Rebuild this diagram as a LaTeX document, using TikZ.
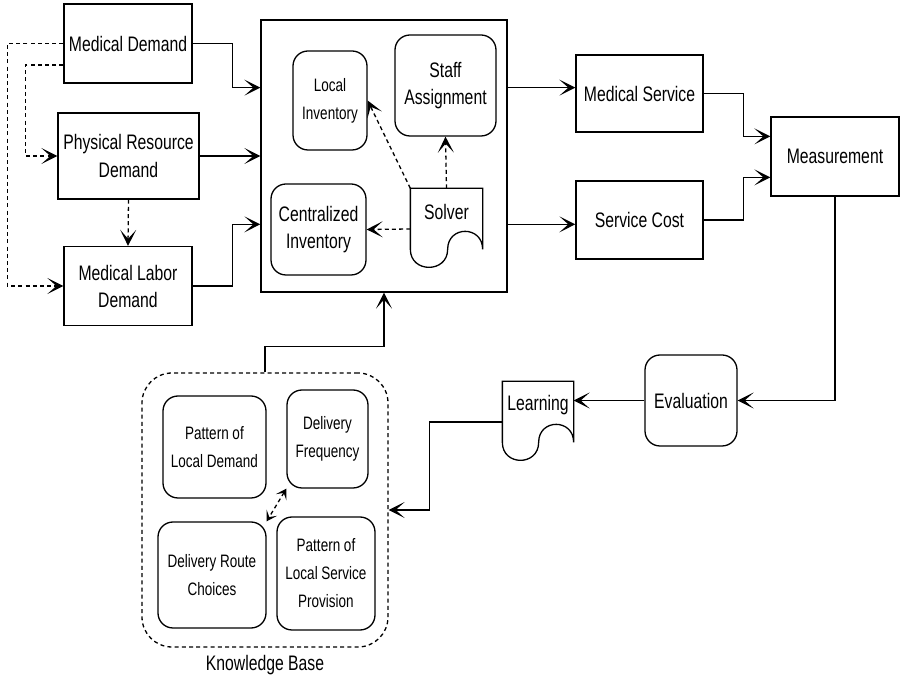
\documentclass[tikz,border=0pt]{standalone}
\usepackage{fontspec}
\setmainfont{Liberation Sans}[FakeStretch=0.75]
\usetikzlibrary{arrows.meta,positioning,calc}

\newcommand{\bigtxt}{\fontsize{10.5}{13.5}\selectfont}
\newcommand{\smalltxt}{\fontsize{9}{14}\selectfont}

\begin{document}
\begin{tikzpicture}[x=0.5pt,y=-0.5pt,line width=0.65pt,
  box/.style={draw,align=center,font=\bigtxt,inner sep=2pt},
  rbox/.style={box,rounded corners=7.5pt},
  sbox/.style={rbox,font=\smalltxt},
  docbox/.style={align=center,font=\bigtxt,inner sep=0pt,text height=7pt},
  dsh/.style={dash pattern=on 2pt off 1.6pt},
  arr/.style={-{Stealth[length=8pt,width=8pt,inset=4.5pt]}},
  darr/.style={{Stealth[length=5pt,width=6pt,inset=2.5pt]}-{Stealth[length=5pt,width=6pt,inset=2.5pt]}}
]
\useasboundingbox (0,0) rectangle (901,678);

% demand side
\node[box,minimum width=64pt,minimum height=39.5pt] (meddem) at (128,43.5) {Medical Demand};
\node[box,minimum width=70.5pt,minimum height=43pt] (physdem) at (128.5,156) {Physical Resource\\Demand};
\node[box,minimum width=64pt,minimum height=39.5pt] (labdem) at (128,286) {Medical Labor\\Demand};

% core block
\node[box,minimum width=123pt,minimum height=136pt] (core) at (384,156) {};
\node[sbox,minimum width=37pt,minimum height=49.5pt] (localinv) at (330,100.5) {Local\\Inventory};
\node[rbox,minimum width=50.5pt,minimum height=50.5pt] (staff) at (445.5,85.5) {Staff\\Assignment};
\node[rbox,minimum width=47.5pt,minimum height=45.5pt] (centinv) at (318.5,229.5) {Centralized\\Inventory};
\node[docbox,minimum width=35.5pt,minimum height=40pt,text depth=16pt] (solver) at (446.5,229) {Solver};
\draw (solver.north west) -- (solver.north east) -- ($(solver.north east)+(0,61)$)
  .. controls +(0,-24) and +(0,-24) .. ($(solver.north east)+(-35,61)$)
  .. controls +(0,24) and +(0,24) .. ($(solver.north west)+(0,61)$) -- cycle;

\coordinate (in1) at ($(core.north west)!0.25!(core.south west)$);
\coordinate (in3) at ($(core.north west)!0.75!(core.south west)$);
\coordinate (out1) at ($(core.north east)!0.25!(core.south east)$);
\coordinate (out3) at ($(core.north east)!0.75!(core.south east)$);

% outputs
\node[box,minimum width=63.5pt,minimum height=38.5pt] (medserv) at (639.5,93.5) {Medical Service};
\node[box,minimum width=63.5pt,minimum height=39pt] (servcost) at (639.5,220) {Service Cost};
\node[box,minimum width=64pt,minimum height=39.5pt] (measure) at (835,156.5) {Measurement};
\coordinate (min1) at ($(measure.north west)!0.25!(measure.south west)$);
\coordinate (min2) at ($(measure.north west)!0.76!(measure.south west)$);

% feedback loop
\node[rbox,minimum width=46pt,minimum height=45.5pt] (evalu) at (691,400.5) {Evaluation};
\node[docbox,minimum width=35pt,minimum height=40pt,text depth=18pt] (learn) at (538,422) {Learning};
\draw (learn.north west) -- (learn.north east) -- ($(learn.north east)+(0,61)$)
  .. controls +(0,-24) and +(0,-24) .. ($(learn.north east)+(-35,61)$)
  .. controls +(0,24) and +(0,24) .. ($(learn.north west)+(0,61)$) -- cycle;

% knowledge base
\node[draw,dsh,rounded corners=15pt,minimum width=123pt,minimum height=137pt,
      label={[font=\bigtxt,label distance=0pt]below:Knowledge Base}] (kb) at (265,510) {};
\node[sbox,minimum width=51.5pt,minimum height=51pt] (patdem) at (214.5,447) {Pattern of\\Local Demand};
\node[sbox,minimum width=40.5pt,minimum height=49pt] (delfreq) at (327.5,439) {Delivery\\Frequency};
\node[sbox,minimum width=54pt,minimum height=53pt] (delroute) at (212,575) {Delivery Route\\Choices};
\node[sbox,minimum width=49pt,minimum height=56.5pt] (patserv) at (326,573.5) {Pattern of\\Local Service\\Provision};

% connectors
\draw[arr] (meddem.east) -- ++(40,0) |- (in1);
\draw[arr] (physdem.east) -- (core.west);
\draw[arr] (labdem.east) -- ++(40,0) |- (in3);
\draw[arr,dsh] (meddem.west) -- ++(-56,0) |- (labdem.west);
\draw[arr,dsh] ([yshift=-10.75pt]meddem.west) -- ++(-38,0) |- (physdem.west);
\draw[arr,dsh] (physdem.south) -- (labdem.north);
\draw[arr,dsh] (solver.north west) -- (localinv.east);
\draw[arr,dsh] (solver.north) -- (staff.south);
\draw[arr,dsh] (solver.west) -- (centinv.east);
\draw[arr] (out1) -- (out1 -| medserv.west);
\draw[arr] (out3) -- (out3 -| servcost.west);
\draw[arr] (medserv.east) -- ++(40,0) |- (min1);
\draw[arr] (servcost.east) -- ++(40,0) |- (min2);
\draw[arr] (measure.south) |- (evalu.east);
\draw[arr] (evalu.west) -- (evalu.west -| learn.east);
\draw[arr] (learn.west) -- ++(-73,0) |- (kb.east);
\draw[arr] (kb.north) -- ++(0,-26) -| (core.south);
\draw[darr,dsh] (delfreq.south west) -- (delroute.north east);
\end{tikzpicture}
\end{document}
